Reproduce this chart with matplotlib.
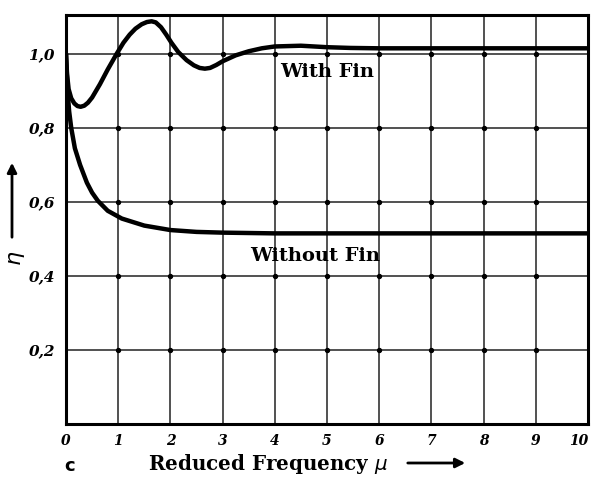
import matplotlib
matplotlib.use("Agg")
import matplotlib.pyplot as plt
import numpy as np

# Data
mu_with = [0.0, 0.02, 0.05, 0.1, 0.16, 0.22, 0.28, 0.35, 0.42, 0.5, 0.65, 0.8, 0.97, 1.1, 1.22, 1.33, 1.45,
           1.55, 1.64, 1.72, 1.82, 1.92, 2.02, 2.15, 2.31, 2.45, 2.56, 2.66, 2.76, 2.88, 3.0, 3.25, 3.5,
           3.75, 4.0, 4.5, 5.0, 5.45, 6.0, 7.0, 8.0, 9.0, 10.0]
eta_with = [1.0, 0.945, 0.905, 0.88, 0.866, 0.859, 0.857, 0.86, 0.868, 0.882, 0.918, 0.958, 1.0, 1.03, 1.052,
            1.068, 1.08, 1.086, 1.088, 1.085, 1.072, 1.052, 1.03, 1.005, 0.983, 0.969, 0.962, 0.96, 0.962,
            0.97, 0.98, 0.996, 1.007, 1.015, 1.02, 1.022, 1.018, 1.016, 1.015, 1.015, 1.015, 1.015, 1.015]

mu_without = [0.0, 0.015, 0.03, 0.06, 0.1, 0.17, 0.27, 0.4, 0.5, 0.61, 0.8, 1.07, 1.5, 2.0, 2.5, 3.0, 4.0,
              5.0, 6.0, 7.0, 8.0, 9.0, 10.0]
eta_without = [1.0, 0.95, 0.9, 0.845, 0.8, 0.745, 0.70, 0.652, 0.625, 0.603, 0.576, 0.555, 0.536, 0.524,
               0.519, 0.517, 0.515, 0.515, 0.515, 0.515, 0.515, 0.515, 0.515]

x_ticks = [0, 1, 2, 3, 4, 5, 6, 7, 8, 9, 10]
x_ticklabels = ["0", "1", "2", "3", "4", "5", "6", "7", "8", "9", "10"]
y_ticks = [0.2, 0.4, 0.6, 0.8, 1.0]
y_ticklabels = ["0,2", "0,4", "0,6", "0,8", "1,0"]

fig = plt.figure(figsize=(5.95, 4.78), dpi=100)
W, H = 595, 478
ax = fig.add_axes([66 / W, 1 - 424 / H, (588 - 66) / W, (424 - 15) / H])
ax.set_xlim(0, 10)
ax.set_ylim(0, 1.105)

# grid
for xv in x_ticks:
    ax.axvline(xv, color="#333333", lw=1.2, zorder=1)
for yv in y_ticks:
    ax.axhline(yv, color="#333333", lw=1.2, zorder=1)
gx, gy = np.meshgrid(x_ticks[1:-1], y_ticks)
ax.scatter(gx.ravel(), gy.ravel(), s=8, color="black", zorder=2)

ax.plot(mu_with, eta_with, color="black", lw=3.2, zorder=3, solid_capstyle="round", solid_joinstyle="round")
ax.plot(mu_without, eta_without, color="black", lw=3.2, zorder=3, solid_capstyle="round", solid_joinstyle="round")

for s in ax.spines.values():
    s.set_linewidth(2.2)
    s.set_color("black")

ax.set_xticks(x_ticks)
ax.set_xticklabels(x_ticklabels, fontsize=10, fontstyle="italic", fontweight="bold", family="DejaVu Serif")
ax.set_yticks(y_ticks)
ax.set_yticklabels(y_ticklabels, fontsize=11, fontstyle="italic", fontweight="bold", family="DejaVu Serif")
ax.tick_params(length=0, pad=8)
ax.tick_params(axis="x", pad=7)
labels = ax.get_xticklabels()
labels[-1].set_horizontalalignment("right")

ax.text(5.0, 0.95, "With Fin", fontsize=14, fontweight="bold", family="DejaVu Serif",
        ha="center", va="center")
ax.text(4.77, 0.455, "Without Fin", fontsize=14, fontweight="bold", family="DejaVu Serif",
        ha="center", va="center")

# x label with arrow
fig.text(148 / W, 1 - 464 / H, "Reduced Frequency $\\mu$", fontsize=14.3, fontweight="bold",
         family="DejaVu Serif", ha="left", va="center")
fig.add_artist(matplotlib.patches.FancyArrowPatch((405 / W, 1 - 463 / H), (468 / W, 1 - 463 / H),
               transform=fig.transFigure, arrowstyle="-|>", mutation_scale=14, lw=2, color="black"))
# y label with arrow
fig.text(17 / W, 1 - 258 / H, "$\\eta$", fontsize=16, fontweight="bold", rotation=90,
         ha="center", va="center")
fig.add_artist(matplotlib.patches.FancyArrowPatch((12 / W, 1 - 240 / H), (12 / W, 1 - 160 / H),
               transform=fig.transFigure, arrowstyle="-|>", mutation_scale=14, lw=2, color="black"))
fig.text(70 / W, 1 - 466 / H, "c", fontsize=13, fontweight="bold", family="DejaVu Sans",
         ha="center", va="center")

fig.savefig("out.png", dpi=100)
